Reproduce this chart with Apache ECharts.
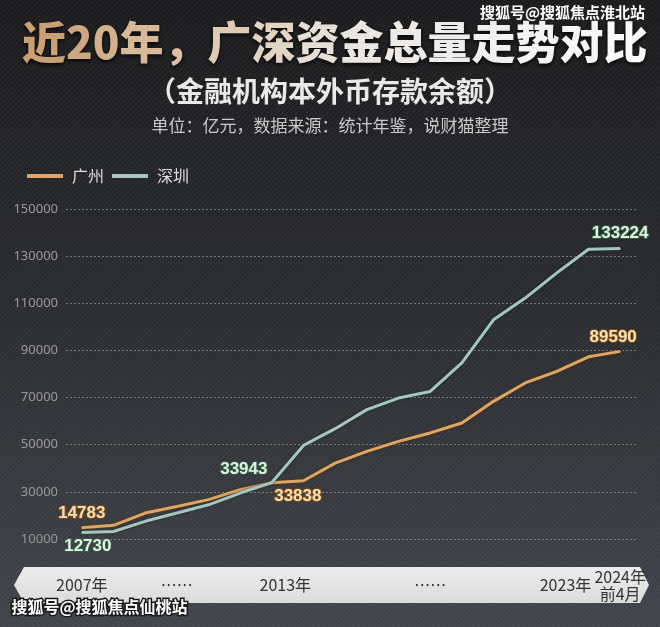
<!DOCTYPE html>
<html lang="zh-CN">
<head>
  <meta charset="UTF-8">
  <title>近20年，广深资金总量走势对比</title>
  <script src="https://cdn.jsdelivr.net/npm/echarts@6.0.0/dist/echarts.min.js"></script>
  <style>
    html, body { margin: 0; padding: 0; background: #26272a; }
    #chart { width: 660px; height: 627px; }
  </style>
</head>
<body>
  <div id="chart"></div>
  <script>
    // 年份（类目）
    var years = ['2007', '2008', '2009', '2010', '2011', '2012', '2013', '2014', '2015',
      '2016', '2017', '2018', '2019', '2020', '2021', '2022', '2023', '2024前4月']
    // 横轴上实际显示的刻度文字
    var xTickLabels = ['2007年', '', '', '……', '', '', '2013年', '', '', '', '', '……',
      '', '', '', '', '2023年', '2024年\n前4月']
    var yTicks = [10000, 30000, 50000, 70000, 90000, 110000, 130000, 150000]

    // 单位：亿元
    var guangzhou = [14783, 15800, 21000, 23800, 26700, 30900, 33838, 34700, 42200,
      47200, 51400, 55000, 59200, 68400, 76200, 81100, 87300, 89590]
    var shenzhen = [12730, 13200, 17500, 21000, 24500, 29500, 33943, 49700, 56800,
      64900, 69800, 72600, 84700, 103000, 112200, 122900, 132900, 133224]

    var gzLabelIdx = [0, 6, 17]
    var szLabelIdx = [0, 6, 17]

    var chart = echarts.init(document.getElementById('chart'))

    // 背景斜纹
    var hatch = document.createElement('canvas')
    hatch.width = 5
    hatch.height = 5
    var hctx = hatch.getContext('2d')
    hctx.strokeStyle = 'rgba(255,255,255,0.05)'
    hctx.lineWidth = 1
    hctx.beginPath()
    hctx.moveTo(0, 5)
    hctx.lineTo(5, 0)
    hctx.stroke()

    var gzLabelPos = {
      0: { position: 'top', distance: 5, offset: [0, 0] },
      6: { position: 'bottom', distance: 5, offset: [26, 0] },
      17: { position: 'top', distance: 5, offset: [-7, 0] }
    }
    var szLabelPos = {
      0: { position: 'bottom', distance: 5, offset: [6, 0] },
      6: { position: 'top', distance: 4, offset: [-28, 0] },
      17: { position: 'top', distance: 6, offset: [0, 0] }
    }

    function withLabels (values, idx, pos, fill, border) {
      return values.map(function (v, i) {
        if (idx.indexOf(i) < 0) return v
        var p = pos[i]
        return {
          value: v,
          label: {
            show: true,
            position: p.position,
            distance: p.distance,
            offset: p.offset,
            fontFamily: 'Liberation Sans',
            fontWeight: 'bold',
            fontSize: 17,
            color: fill,
            textBorderColor: border,
            textBorderWidth: 2
          }
        }
      })
    }

    // 标题渐变：逐字插值颜色（金 → 白）
    function mix (a, b, t) {
      var pa = [parseInt(a.substr(1, 2), 16), parseInt(a.substr(3, 2), 16), parseInt(a.substr(5, 2), 16)]
      var pb = [parseInt(b.substr(1, 2), 16), parseInt(b.substr(3, 2), 16), parseInt(b.substr(5, 2), 16)]
      return 'rgb(' + pa.map(function (c, k) { return Math.round(c + (pb[k] - c) * t) }).join(',') + ')'
    }
    var titleText = '近20年，广深资金总量走势对比'
    var titleStops = [[0, '#c99f74'], [0.3, '#dcc2a5'], [0.55, '#e9e6e2'], [1, '#fafafa']]
    function titleColor (t) {
      for (var k = 1; k < titleStops.length; k++) {
        if (t <= titleStops[k][0]) {
          var s0 = titleStops[k - 1]
          var s1 = titleStops[k]
          return mix(s0[1], s1[1], (t - s0[0]) / (s1[0] - s0[0]))
        }
      }
      return titleStops[titleStops.length - 1][1]
    }
    var titleRich = {}
    var titleParts = titleText.split('').map(function (ch, i) {
      var key = 'c' + i
      titleRich[key] = {
        fill: titleColor(i / (titleText.length - 1)),
        fontFamily: 'Noto Sans CJK SC',
        fontWeight: 900,
        fontSize: 44,
        textShadowColor: 'rgba(0,0,0,0.85)',
        textShadowBlur: 4,
        textShadowOffsetY: 2
      }
      return '{' + key + '|' + ch + '}'
    })

    chart.setOption({
      backgroundColor: new echarts.graphic.LinearGradient(0, 0, 0, 1, [
        { offset: 0, color: '#1c1c1e' },
        { offset: 0.5, color: '#2b2d31' },
        { offset: 1, color: '#42454c' }
      ]),
      animation: false,
      graphic: [
        {
          type: 'rect', z: -10, silent: true,
          shape: { x: 0, y: 0, width: 660, height: 627 },
          style: { fill: { image: hatch, repeat: 'repeat' } }
        },
        {
          type: 'text', left: 22, top: 20,
          style: {
            text: titleParts.join(''),
            rich: titleRich
          }
        },
        {
          type: 'text', left: 'center', top: 77,
          style: {
            text: '（金融机构本外币存款余额）',
            fontFamily: 'Noto Sans CJK SC', fontWeight: 'bold', fontSize: 28,
            fill: '#e9e9e9'
          }
        },
        {
          type: 'text', left: 'center', top: 117,
          style: {
            text: '单位：亿元，数据来源：统计年鉴，说财猫整理',
            fontFamily: 'Noto Sans CJK SC', fontSize: 17,
            fill: '#c9c9c9'
          }
        },
        {
          type: 'text', right: 14, top: 4,
          style: {
            text: '搜狐号@搜狐焦点淮北站',
            fontFamily: 'Noto Sans CJK SC', fontWeight: 'bold', fontSize: 15,
            fill: '#ffffff', stroke: '#222', lineWidth: 2
          }
        },
        {
          type: 'polygon', z: -1, silent: true,
          shape: {
            points: [[14, 585], [24, 567], [640, 567], [649, 585], [640, 603], [24, 603]]
          },
          style: {
            fill: new echarts.graphic.LinearGradient(0, 0, 0, 1, [
              { offset: 0, color: '#ececec' },
              { offset: 1, color: '#dcdcdc' }
            ])
          }
        },
        {
          type: 'text', left: 10, top: 597, z: 100,
          style: {
            text: '搜狐号@搜狐焦点仙桃站',
            fontFamily: 'Noto Sans CJK SC', fontWeight: 'bold', fontSize: 16,
            fill: '#ffffff', stroke: '#1a1a1a', lineWidth: 3
          }
        }
      ],
      legend: {
        left: 22,
        top: 163,
        icon: 'rect',
        itemWidth: 36,
        itemHeight: 4,
        itemGap: 8,
        textStyle: {
          color: '#dcdcdc',
          fontSize: 16,
          fontFamily: 'Noto Sans CJK SC',
          padding: [0, 0, 0, 4]
        },
        data: ['广州', '深圳']
      },
      grid: {
        left: 66,
        right: 24,
        top: 209,
        bottom: 88
      },
      xAxis: {
        type: 'category',
        data: years,
        boundaryGap: true,
        axisLine: { show: false },
        axisTick: { show: false },
        axisLabel: {
          interval: 0,
          margin: 46,
          verticalAlign: 'middle',
          color: '#333333',
          fontSize: 16,
          lineHeight: 17,
          fontFamily: 'Noto Sans CJK SC',
          formatter: function (v, i) {
            var t = xTickLabels[i]
            if (i === 6) return '{r|' + t + '}'
            if (i === 16) return '{l|' + t + '}'
            return t
          },
          rich: {
            r: { padding: [0, 0, 0, 27], color: '#333333', fontSize: 16, fontFamily: 'Noto Sans CJK SC' },
            l: { padding: [0, 46, 0, 0], color: '#333333', fontSize: 16, fontFamily: 'Noto Sans CJK SC' }
          }
        }
      },
      yAxis: {
        type: 'value',
        min: yTicks[0],
        max: yTicks[yTicks.length - 1],
        interval: yTicks[1] - yTicks[0],
        axisLine: { show: false },
        axisTick: { show: false },
        axisLabel: {
          margin: 8,
          color: '#9a9a9a',
          fontSize: 13,
          fontFamily: 'Noto Sans',
          formatter: function (v) { return String(v) }
        },
        splitLine: {
          lineStyle: { color: 'rgba(210,210,210,0.45)', type: [2, 2], width: 1 }
        }
      },
      series: [
        {
          name: '广州',
          type: 'line',
          symbol: 'circle',
          symbolSize: 1,
          showSymbol: true,
          color: '#dca766',
          lineStyle: {
            width: 3,
            color: '#dca766',
            shadowColor: 'rgba(80,45,10,0.95)',
            shadowBlur: 3
          },
          data: withLabels(guangzhou, gzLabelIdx, gzLabelPos, '#fbe0b4', '#7a4c18')
        },
        {
          name: '深圳',
          type: 'line',
          symbol: 'circle',
          symbolSize: 1,
          showSymbol: true,
          color: '#a6c6c0',
          lineStyle: {
            width: 3,
            color: '#a6c6c0',
            shadowColor: 'rgba(20,40,35,0.8)',
            shadowBlur: 3
          },
          data: withLabels(shenzhen, szLabelIdx, szLabelPos, '#def4e0', '#345a44')
        }
      ]
    })
  </script>
</body>
</html>
